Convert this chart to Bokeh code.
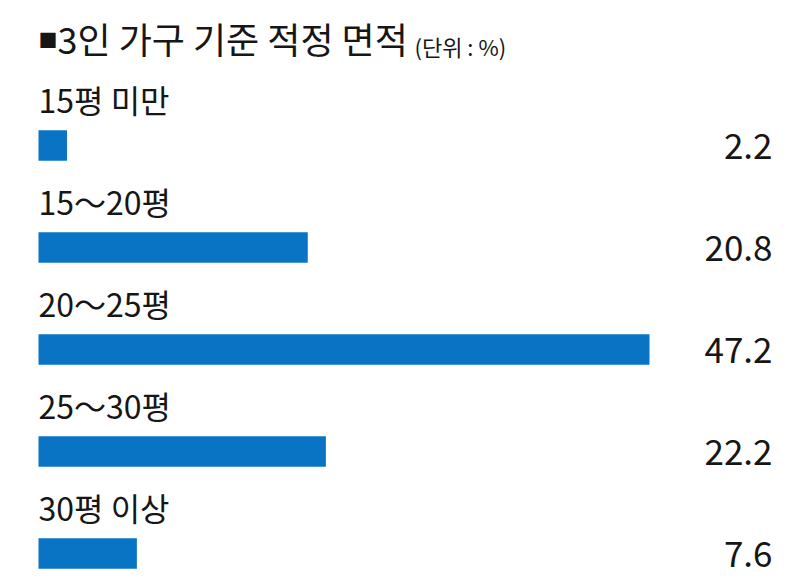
from bokeh.plotting import figure
from bokeh.models import Range1d, ColumnDataSource, Label
from bokeh.core.properties import value
from bokeh.embed import file_html
from bokeh.resources import INLINE

categories = ["15평 미만", "15～20평", "20～25평", "25～30평", "30평 이상"]
values = [2.2, 20.8, 47.2, 22.2, 7.6]
value_labels = ["2.2", "20.8", "47.2", "22.2", "7.6"]
title_text = "3인 가구 기준 적정 면적"
unit_text = "(단위 : %)"

FONT = "Noto Sans CJK KR"
BLUE = "#0a74c4"
INK = "#161616"

W, H = 792, 578
px_per_unit = 611 / 47.2
x0 = -38 / px_per_unit
x1 = x0 + W / px_per_unit
row_px = 102
y_top = -145 / row_px
y_bot = y_top + H / row_px

idx = list(range(len(categories)))
src = ColumnDataSource(dict(
    i=idx,
    v=values,
    cat=categories,
    vl=value_labels,
    label_y=[k - 0.46 for k in idx],
    value_y=[k + 0.0 for k in idx],
))

p = figure(width=W, height=H, x_range=Range1d(x0, x1), y_range=Range1d(y_bot, y_top),
           output_backend="svg", toolbar_location=None, min_border=0)
p.axis.visible = False
p.grid.visible = False
p.outline_line_color = None
p.background_fill_color = "white"

p.hbar(y="i", left=0, right="v", height=0.30, source=src, fill_color=BLUE, line_color=None)

p.text(x=0, y="label_y", text="cat", source=src, text_font=value(FONT),
       text_font_size="32px", text_baseline="middle", text_align="left", text_color=INK)

val_x = x0 + 772 / px_per_unit
p.text(x=val_x, y="value_y", text="vl", source=src, text_font=value(FONT),
       text_font_size="35px", text_baseline="middle", text_align="right", text_color=INK)

p.add_layout(Label(x=38, y=H - 39, x_units="screen", y_units="screen", text="■",
                   text_font=FONT, text_font_size="19px", text_baseline="middle", text_color=INK))
p.add_layout(Label(x=57, y=H - 37, x_units="screen", y_units="screen", text=title_text,
                   text_font=FONT, text_font_size="36px", text_baseline="middle", text_color=INK))
p.add_layout(Label(x=414, y=H - 45, x_units="screen", y_units="screen", text=unit_text,
                   text_font=FONT, text_font_size="22px", text_baseline="middle", text_color=INK))

open("out.html", "w").write(file_html(p, INLINE))
